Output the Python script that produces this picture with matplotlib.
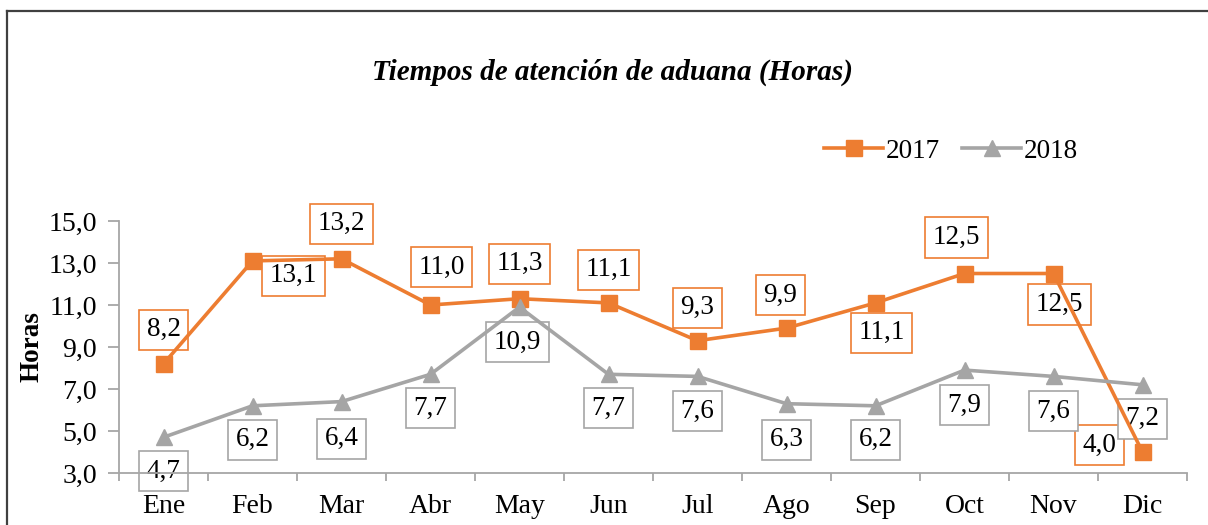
import matplotlib
matplotlib.use("Agg")
import matplotlib.pyplot as plt
from matplotlib.lines import Line2D
from matplotlib.ticker import FuncFormatter, FixedLocator

plt.rcParams["font.family"] = ["Liberation Serif", "DejaVu Serif"]

months = ["Ene", "Feb", "Mar", "Abr", "May", "Jun",
          "Jul", "Ago", "Sep", "Oct", "Nov", "Dic"]
series_names = ["2017", "2018"]
values_2017 = [8.2, 13.1, 13.2, 11.0, 11.3, 11.1, 9.3, 9.9, 11.1, 12.5, 12.5, 4.0]
values_2018 = [4.7, 6.2, 6.4, 7.7, 10.9, 7.7, 7.6, 6.3, 6.2, 7.9, 7.6, 7.2]
y_ticks = [3.0, 5.0, 7.0, 9.0, 11.0, 13.0, 15.0]

title = "Tiempos de atención de aduana (Horas)"
y_title = "Horas"

ORANGE = "#ED7D31"
GRAY = "#A5A5A5"
AXIS_GRAY = "#A6A6A6"

# data-label placement, in pixels relative to each marker (x right, y up)
offsets_2017 = [(0, 34), (41, -15), (0, 35), (11, 38), (0, 35), (0, 33),
                (0, 33), (-6, 33), (6, -30), (-8, 36), (6, -31), (-43, 7)]
offsets_2018 = [(0, -34), (0, -34), (0, -37), (0, -34), (-2, -35), (0, -34),
                (0, -35), (0, -36), (0, -34), (0, -35), (0, -35), (0, -34)]

fig = plt.figure(figsize=(12.08, 5.25), dpi=100)
ax = fig.add_axes([119 / 1208, 1 - 473 / 525, (1187 - 119) / 1208, (473 - 221) / 525])

x = list(range(len(months)))
ax.plot(x, values_2017, color=ORANGE, lw=2.6, marker="s", ms=11,
        label=series_names[0], zorder=4, solid_joinstyle="round")
ax.plot(x, values_2018, color=GRAY, lw=2.6, marker="^", ms=11,
        label=series_names[1], zorder=5, solid_joinstyle="round")


def fmt(v):
    return f"{v:.1f}".replace(".", ",")


for vals, offs, col in ((values_2017, offsets_2017, ORANGE),
                        (values_2018, offsets_2018, GRAY)):
    for xi, v, (dx, dy) in zip(x, vals, offs):
        ax.annotate(fmt(v), (xi, v), xytext=(dx, dy), textcoords="offset pixels",
                    ha="center", va="center", fontsize=19.5, zorder=2,
                    annotation_clip=False,
                    bbox=dict(boxstyle="square,pad=0.28", fc="white", ec=col, lw=1.2))

ax.set_xlim(-0.5, len(months) - 0.5)
ax.set_ylim(3, 15)
ax.set_yticks(y_ticks)
ax.yaxis.set_major_formatter(FuncFormatter(lambda v, p: fmt(v)))
ax.set_xticks(x)
ax.set_xticklabels(months)
ax.xaxis.set_minor_locator(FixedLocator([i - 0.5 for i in range(len(months) + 1)]))

for s in ("top", "right"):
    ax.spines[s].set_visible(False)
for s in ("left", "bottom"):
    ax.spines[s].set_color(AXIS_GRAY)
    ax.spines[s].set_linewidth(1.3)
    ax.spines[s].set_zorder(2.5)

ax.tick_params(axis="y", direction="out", length=8, width=1.3, color=AXIS_GRAY,
               labelsize=20, pad=8)
ax.tick_params(axis="x", which="major", length=0, labelsize=20, pad=15)
ax.tick_params(axis="x", which="minor", direction="out", length=6, width=1.3,
               color=AXIS_GRAY)

ax.set_ylabel(y_title, fontsize=19.5, fontweight="bold")
ax.yaxis.set_label_coords(-0.070, 0.5)

fig.text(612 / 1208, 1 - 72 / 525, title, ha="center", va="center",
         fontsize=21, fontweight="bold", fontstyle="italic")

leg = fig.legend(loc="center", bbox_to_anchor=(951 / 1208, 1 - 151 / 525),
                 ncol=2, frameon=False, fontsize=19.5, handlelength=2.2,
                 handletextpad=0.1, columnspacing=0.8, borderpad=0)

# outer frame lines
fig.add_artist(Line2D([6.5 / 1208, 6.5 / 1208], [0, 1 - 11 / 525],
                      transform=fig.transFigure, color="#404040", lw=1.6))
fig.add_artist(Line2D([6.5 / 1208, 1], [1 - 11 / 525, 1 - 11 / 525],
                      transform=fig.transFigure, color="#404040", lw=1.6))

fig.savefig("out.png", dpi=100, facecolor="white")
